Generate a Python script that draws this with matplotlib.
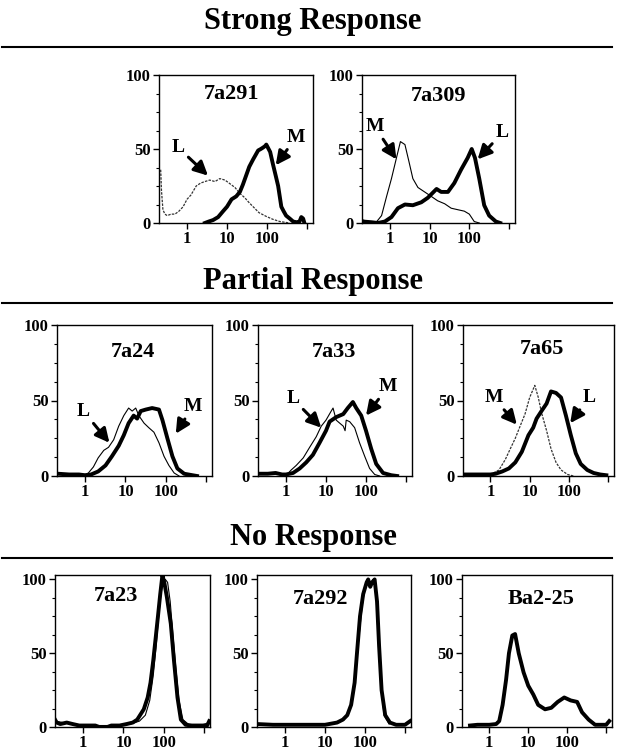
import matplotlib
matplotlib.use("Agg")
import matplotlib.pyplot as plt
from matplotlib.ticker import FixedLocator, LogLocator, NullFormatter
from matplotlib.lines import Line2D

# ---------- data (channel value, % of max) ----------
S291_L_X = [0.22, 0.23, 0.25, 0.28, 0.32, 0.4, 0.5, 0.63, 0.8, 1, 1.26, 1.7, 2.2, 2.8, 3.7, 5,
            6.6, 8.9, 12.6, 15.8, 21, 28, 35, 45, 63, 95, 140, 210, 370]
S291_L_Y = [36, 22, 9, 6, 5, 6, 6, 8, 11, 16, 19, 25, 27, 28, 29, 28, 30, 29, 26, 24, 20, 17, 14,
            11, 7, 4.5, 2.5, 1, 0]
S291_M_X = [2.8, 3.5, 4.5, 6, 8, 10, 13, 17, 21, 25, 30, 36, 45, 52, 60, 70, 80, 90, 96, 105, 120,
            140, 165, 190, 228, 260, 300, 370, 450, 550, 650, 720, 800, 860]
S291_M_Y = [0, 1, 2, 4, 8, 11, 16, 18, 21, 26, 32, 38, 43, 46, 49, 50, 51, 52, 53, 51, 48, 40, 32,
            25, 11, 8, 5, 3, 1, 0.5, 1, 4, 3, 0]

S309_M_X = [0.21, 0.28, 0.35, 0.47, 0.62, 0.83, 1.1, 1.5, 1.85, 2.4, 3, 3.8, 5.1, 7.5, 11, 16, 24,
            35, 51, 75, 100, 133, 178]
S309_M_Y = [2, 1, 0.5, 1, 5, 18, 30, 45, 55, 53, 42, 30, 24, 21, 18, 15, 13, 10, 9, 8, 6, 1, 0]
S309_L_X = [0.21, 0.35, 0.5, 0.75, 1.1, 1.6, 2.4, 3.8, 6.2, 9, 15, 19.6, 29, 42, 62, 91, 115, 139,
            178, 237, 316, 465, 600]
S309_L_Y = [1, 0.5, 0, 1, 4, 10, 12.5, 12, 14, 17, 23, 21, 21, 27, 36, 44, 50, 44, 30, 12, 5, 1, 0]

P24_L_X = [0.21, 0.4, 0.7, 1.0, 1.2, 1.6, 2.1, 2.9, 3.8, 5.1, 6.8, 9.1, 12, 14.7, 18, 21.5, 29, 38,
           51, 68, 91, 120, 162, 215]
P24_L_Y = [1.5, 1, 1, 1, 2, 6, 12, 17, 19, 24, 33, 40, 45, 43, 45, 40, 35, 32, 29, 22, 13, 7, 2, 0]
P24_M_X = [0.21, 0.4, 0.7, 1.0, 1.4, 2.1, 3.2, 4.6, 6.8, 9.1, 12, 16, 19.5, 24, 32, 46, 68, 83, 110,
           147, 195, 288, 465, 600]
P24_M_Y = [1.5, 1, 1, 0.5, 1, 3, 7, 13, 20, 27, 35, 40, 38, 43, 44, 45, 44, 37, 25, 13, 5, 1.5, 0.5, 0]

P33_L_X = [0.21, 0.35, 0.55, 0.8, 1.1, 1.35, 1.8, 2.7, 3.9, 5.7, 7.6, 10, 13.5, 15, 18, 22, 27, 30,
           32, 39, 52, 69, 93, 123, 165, 220]
P33_L_Y = [1.5, 1.5, 2, 1.5, 1.5, 4, 7, 12, 19, 26, 33, 37, 43, 45, 37, 35, 33, 30, 37, 36, 32, 22,
           13, 5, 1, 0]
P33_M_X = [0.21, 0.35, 0.55, 0.8, 1.0, 1.5, 2.2, 3.2, 4.7, 6.9, 10, 12.3, 18, 27, 35, 47, 57, 76,
           100, 135, 180, 267, 430, 600]
P33_M_Y = [1.5, 1.5, 2, 1, 1, 2, 5, 9, 14, 22, 30, 36, 39, 41, 45, 49, 45, 40, 30, 18, 8, 2, 0.5, 0]

P65_M_X = [0.21, 0.4, 0.65, 1.0, 1.1, 1.65, 2.4, 3.2, 4.3, 5.7, 7.6, 10, 13.5, 16.6, 20, 27, 35, 47,
           63, 93, 130]
P65_M_Y = [1, 1, 1, 1, 1.5, 4, 11, 18, 25, 33, 41, 52, 60, 52, 42, 30, 18, 9, 4, 1, 0]
P65_L_X = [0.21, 0.4, 0.65, 1.0, 1.35, 2.0, 2.95, 4.3, 6.3, 9.3, 12.3, 15, 20, 27, 35, 47, 63, 84,
           112, 150, 200, 294, 427, 630, 900]
P65_L_Y = [1, 1, 1, 1, 1.5, 3, 5, 9, 16, 27, 32, 38, 43, 48, 56, 55, 52, 40, 27, 15, 8, 4, 2, 1, 0.5]

N23_A_X = [0.2, 0.22, 0.27, 0.39, 0.55, 0.8, 1.2, 2, 2.5, 4, 5, 8, 12, 17, 22, 32, 40, 47, 55, 63,
           72, 82, 93, 105, 120, 150, 180, 220, 267, 350, 500, 800, 1200, 1350]
N23_A_Y = [5, 3, 2, 3, 2, 1, 1, 1, 0, 0, 1, 1, 2, 3, 5, 12, 20, 30, 45, 60, 75, 90, 103, 97, 88, 70,
           45, 20, 5, 1.5, 1, 1, 1, 4]
N23_B_X = [0.2, 0.5, 1, 3, 8, 15, 25, 35, 45, 55, 65, 75, 85, 95, 110, 125, 145, 170, 200, 240, 300,
           450, 800, 1350]
N23_B_Y = [4, 2, 1, 1, 1, 2, 4, 8, 18, 35, 55, 75, 90, 97, 100, 98, 85, 62, 40, 18, 5, 1, 1, 3]

N292_A_X = [0.2, 0.5, 1, 3, 10, 20, 28, 36, 45, 55, 63, 75, 90, 110, 120, 135, 150, 174, 200, 225,
            260, 320, 420, 600, 1000, 1350]
N292_A_Y = [2, 1.5, 1.5, 1.5, 1.5, 3, 5, 8, 15, 30, 50, 75, 90, 98, 100, 95, 98, 100, 85, 55, 25, 8,
            3, 1.5, 1.5, 4]
N292_B_X = [30, 40, 50, 60, 70, 85, 100, 115, 130, 150, 170, 190, 215, 250, 300, 400]
N292_B_Y = [5, 10, 22, 40, 60, 82, 95, 100, 96, 97, 99, 88, 60, 28, 8, 2]

NBA_X = [0.32, 0.5, 1, 1.5, 1.8, 2.2, 2.7, 3.2, 3.9, 4.6, 5.7, 7.6, 10, 13.5, 18, 27, 39, 57, 84,
         123, 180, 240, 355, 520, 800, 1000, 1200]
NBA_Y = [1, 1.5, 1.5, 2, 4, 15, 32, 50, 62, 63, 50, 37, 28, 22, 15, 12, 13, 17, 20, 18, 17, 10, 5,
         1.5, 1.5, 1.5, 4]

SERIF = ["Liberation Serif", "DejaVu Serif"]
W, H = 626, 752

THICK = dict(color="black", lw=2.8)
THIN = dict(color="black", lw=0.8)
DOTTED = dict(color="#333333", lw=0.9, ls=(0, (2, 1)))

# panel: (left, top, right, bottom px), title, title pos, ymax, curves, annotations
panels = [
    ((159, 75, 313, 223), "7a291", (0.47, 0.87), 100,
     [(S291_L_X, S291_L_Y, DOTTED), (S291_M_X, S291_M_Y, THICK)],
     [("L", (0.6, 51), (3.35, 32)), ("M", (540, 58), (165, 39))]),
    ((362, 75, 515, 223), "7a309", (0.5, 0.86), 100,
     [(S309_M_X, S309_M_Y, THIN), (S309_L_X, S309_L_Y, THICK)],
     [("M", (0.42, 65), (1.47, 43)), ("L", (680, 61), (162, 43))]),
    ((57, 325, 212, 476), "7a24", (0.49, 0.82), 100,
     [(P24_L_X, P24_L_Y, THIN), (P24_M_X, P24_M_Y, THICK)],
     [("L", (0.9, 43), (4.0, 22)), ("M", (465, 46), (178, 28))]),
    ((258, 325, 412, 476), "7a33", (0.49, 0.82), 100,
     [(P33_L_X, P33_L_Y, THIN), (P33_M_X, P33_M_Y, THICK)],
     [("L", (1.5, 51), (7.6, 32)), ("M", (355, 59), (100, 40))]),
    ((463, 325, 614, 476), "7a65", (0.52, 0.84), 100,
     [(P65_M_X, P65_M_Y, DOTTED), (P65_L_X, P65_L_Y, THICK)],
     [("M", (1.2, 52), (4.7, 34)), ("L", (320, 52), (108, 35))]),
    ((55, 575, 210, 727), "7a23", (0.39, 0.86), 103,
     [(N23_A_X, N23_A_Y, THICK), (N23_B_X, N23_B_Y, THIN)], []),
    ((257, 575, 411, 727), "7a292", (0.41, 0.84), 103,
     [(N292_A_X, N292_A_Y, THICK), (N292_B_X, N292_B_Y, THIN)], []),
    ((462, 575, 612, 727), "Ba2-25", (0.53, 0.84), 103,
     [(NBA_X, NBA_Y, THICK)], []),
]

sections = [("Strong Response", 22, 47), ("Partial Response", 282, 303), ("No Response", 537, 558)]

fig = plt.figure(figsize=(W / 100, H / 100), dpi=100)

for text, ty, ly in sections:
    fig.text(0.5, 1 - ty / H, text, ha="center", va="center", fontsize=22,
             fontweight="bold", family=SERIF)
    fig.add_artist(Line2D([0.003, 0.978], [1 - ly / H] * 2, color="black", lw=1.5))

for (l, t, r, b), title, tpos, ymax, curves, annots in panels:
    ax = fig.add_axes([l / W, 1 - b / H, (r - l) / W, (b - t) / H])
    for xs, ys, st in curves:
        ax.plot(xs, ys, solid_joinstyle="round", **st)
    ax.set_xscale("log")
    ax.set_xlim(10 ** -0.7, 10 ** 3.15)
    ax.set_ylim(0, ymax)
    ax.xaxis.set_major_locator(FixedLocator([1, 10, 100, 1000]))
    ax.set_xticklabels(["1", "10", "100", ""])
    ax.xaxis.set_minor_locator(LogLocator(base=10, subs=range(2, 10)))
    ax.xaxis.set_minor_formatter(NullFormatter())
    ax.set_yticks([0, 50, 100])
    ax.set_yticks([12.5, 25, 37.5, 62.5, 75, 87.5], minor=True)
    ax.tick_params(which="major", direction="out", length=4, width=1, labelsize=12, pad=2)
    ax.tick_params(which="minor", direction="out", length=2, width=0.8)
    for lab in ax.get_xticklabels() + ax.get_yticklabels():
        lab.set_family(SERIF)
        lab.set_fontweight("bold")
    for sp in ax.spines.values():
        sp.set_linewidth(1.0)
    ax.text(tpos[0], tpos[1], title, transform=ax.transAxes, ha="center", va="center",
            fontsize=16, fontweight="bold", family=SERIF)
    for lab, txy, tip in annots:
        ax.annotate(lab, xy=tip, xytext=txy, ha="center", va="center", fontsize=14,
                    fontweight="bold", family=SERIF,
                    arrowprops=dict(arrowstyle="-|>,head_width=0.3,head_length=0.6",
                                    color="black", lw=2.2, shrinkA=1, shrinkB=0))

fig.savefig("out.png", dpi=100)
